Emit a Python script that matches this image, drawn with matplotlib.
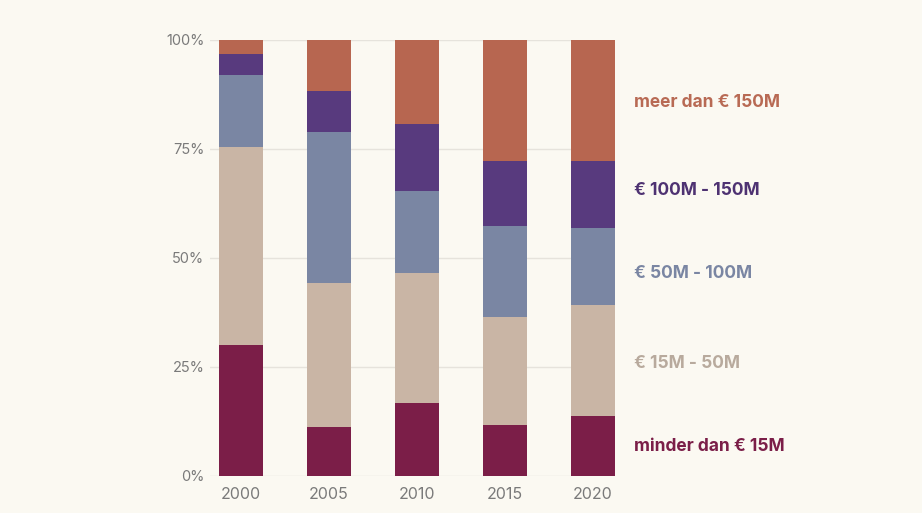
import matplotlib
matplotlib.use("Agg")
import matplotlib.pyplot as plt
import numpy as np

years = ["2000", "2005", "2010", "2015", "2020"]
categories = ["minder dan € 15M", "€ 15M - 50M", "€ 50M - 100M", "€ 100M - 150M", "meer dan € 150M"]
minder_15 = [30.0, 11.1, 16.7, 11.7, 13.8]
m15_50 = [45.5, 33.2, 29.8, 24.6, 25.4]
m50_100 = [16.4, 34.6, 18.7, 21.0, 17.7]
m100_150 = [4.8, 9.4, 15.5, 14.9, 15.3]
meer_150 = [3.3, 11.7, 19.3, 27.8, 27.8]
series = [minder_15, m15_50, m50_100, m100_150, meer_150]
bar_colors = ["#7B1E48", "#C9B5A5", "#7A86A3", "#583A7E", "#B76650"]
label_colors = ["#7B1E48", "#B8AA9D", "#7A86A3", "#4E3272", "#B86A54"]
yticks = [0, 25, 50, 75, 100]
ytick_labels = ["0%", "25%", "50%", "75%", "100%"]

bg = "#FBF9F2"
plt.rcParams['font.family'] = ['Inter', 'DejaVu Sans']
fig = plt.figure(figsize=(9.22, 5.13), dpi=100, facecolor=bg)
ax = fig.add_axes([210/922, (513-475.7)/513, (615-210)/922, (475.7-39.7)/513])
ax.set_facecolor(bg)

x = np.arange(len(years))
bottom = np.zeros(len(years))
for vals, col in zip(series, bar_colors):
    ax.bar(x, vals, bottom=bottom, width=0.5, color=col, linewidth=0, zorder=3)
    bottom += np.array(vals)

ax.set_xlim(-0.352, 4.25)
ax.set_ylim(0, 100)
ax.set_yticks(yticks)
ax.set_yticklabels(ytick_labels)
ax.set_xticks(x)
ax.set_xticklabels(years)
ax.grid(axis='y', color="#E6E3DC", linewidth=1, zorder=0)
for s in ax.spines.values():
    s.set_visible(False)
ax.tick_params(axis='both', length=0, colors="#7F7F7F")
ax.tick_params(axis='y', pad=4, labelsize=10.5)
ax.tick_params(axis='x', pad=8, labelsize=11.5)
for lbl in ax.get_xticklabels() + ax.get_yticklabels():
    lbl.set_color("#7A7A7A")

# category labels at the right of the chart (vertical layout positions in axes fraction)
label_pos = [0.068, 0.258, 0.464, 0.655, 0.855]
for name, col, yp in zip(categories, label_colors, label_pos):
    ax.annotate(name, xy=(1.0, yp), xycoords='axes fraction',
                xytext=(14, 0), textcoords='offset points',
                ha='left', va='center', fontsize=12.5, fontweight='bold',
                color=col, annotation_clip=False)

fig.savefig("out.png", dpi=100, facecolor=bg)
